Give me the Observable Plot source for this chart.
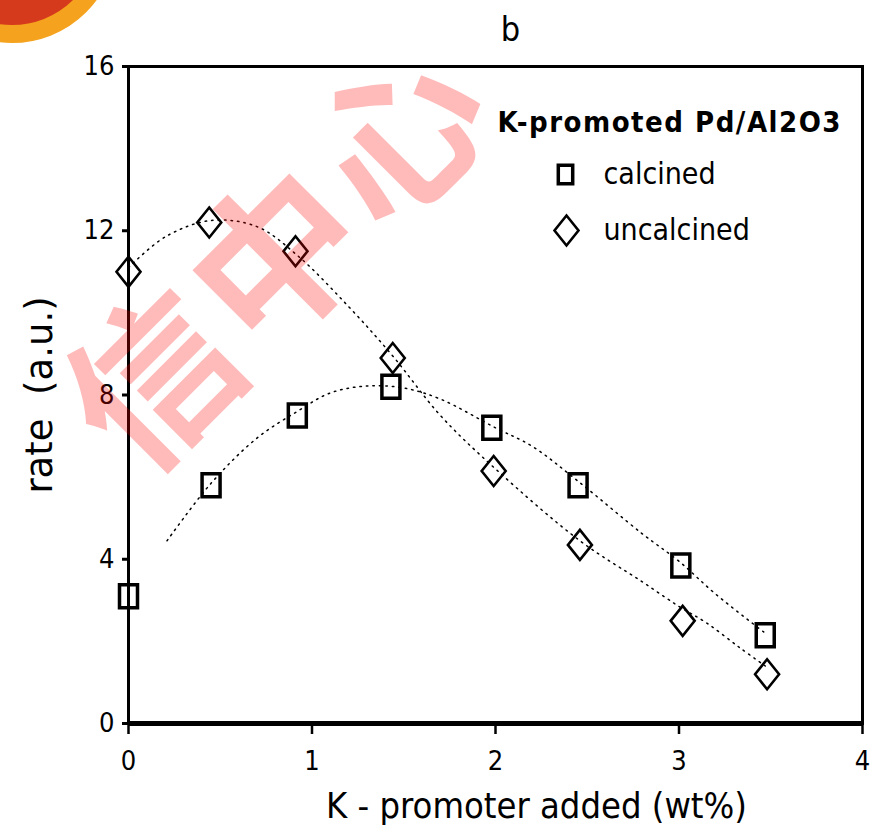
<!DOCTYPE html>
<html>
<head>
<meta charset="utf-8">
<script src="https://cdn.jsdelivr.net/npm/d3@7"></script>
<script src="https://cdn.jsdelivr.net/npm/@observablehq/plot@0.6"></script>
<style>
  html, body { margin: 0; padding: 0; background: #fff; }
  #wrap { position: relative; width: 879px; height: 832px; overflow: hidden; }
  #wrap svg.overlay { position: absolute; left: 0; top: 0; pointer-events: none; }
</style>
</head>
<body>
<div id="wrap"></div>
<script>
// ---- data ----
const xTicks = [0, 1, 2, 3, 4];
const yTicks = [0, 4, 8, 12, 16];

const calcinedK = [0, 0.45, 0.92, 1.43, 1.98, 2.45, 3.01, 3.47];
const calcinedRate = [3.1, 5.8, 7.5, 8.2, 7.2, 5.8, 3.85, 2.15];

const uncalcinedK = [0, 0.44, 0.91, 1.44, 1.99, 2.46, 3.02, 3.48];
const uncalcinedRate = [11.0, 12.2, 11.5, 8.9, 6.15, 4.35, 2.5, 1.2];

// dotted trend lines
const calcTrendK = [0.21, 0.45, 0.7, 0.92, 1.1, 1.3, 1.5, 1.7, 2.0, 2.2, 2.45, 2.8, 3.0, 3.2, 3.47];
const calcTrendRate = [4.45, 5.85, 6.95, 7.6, 8.05, 8.22, 8.17, 7.9, 7.2, 6.75, 5.9, 4.62, 3.95, 3.15, 2.2];

const uncTrendK = [0, 0.2, 0.45, 0.7, 0.92, 1.2, 1.44, 1.7, 2.0, 2.46, 2.8, 3.0, 3.15, 3.33, 3.47];
const uncTrendRate = [11.1, 11.85, 12.25, 12.1, 11.4, 10.15, 8.95, 7.5, 6.2, 4.45, 3.45, 2.85, 2.45, 1.85, 1.4];

const titleText = "b";
const xLabel = "K - promoter added (wt%)";
const yLabel = "rate\u00a0\u00a0(a.u.)";
const legendTitle = "K-promoted Pd/Al2O3";
const seriesNames = ["calcined", "uncalcined"];
const watermarkChars = ["信", "中", "心"];

// ---- build tables ----
const calcPts = calcinedK.map((k, i) => ({k, r: calcinedRate[i]}));
const uncPts = uncalcinedK.map((k, i) => ({k, r: uncalcinedRate[i]}));
const calcTrend = calcTrendK.map((k, i) => ({k, r: calcTrendRate[i]}));
const uncTrend = uncTrendK.map((k, i) => ({k, r: uncTrendRate[i]}));

// tall (vertically stretched) symbols like the reference
const tallSquare = {draw(ctx, size) {
  const s = Math.sqrt(size / Math.PI), w = s * 0.9, h = s * 1.15;
  ctx.moveTo(-w, -h); ctx.lineTo(w, -h); ctx.lineTo(w, h); ctx.lineTo(-w, h); ctx.closePath();
}};
const tallDiamond = {draw(ctx, size) {
  const s = Math.sqrt(size / Math.PI), w = s * 1.2, h = s * 1.5;
  ctx.moveTo(0, -h); ctx.lineTo(w, 0); ctx.lineTo(0, h); ctx.lineTo(-w, 0); ctx.closePath();
}};

const narrow = "'DejaVu Sans Condensed', 'DejaVu Sans', sans-serif";
const wide = "'DejaVu Sans', Verdana, sans-serif";

const chart = Plot.plot({
  width: 879,
  height: 832,
  marginLeft: 128,
  marginRight: 17,
  marginTop: 66,
  marginBottom: 109,
  style: {background: "white", fontFamily: narrow, color: "black"},
  x: {domain: [0, 4], label: null},
  y: {domain: [0, 16], label: null},
  marks: [
    Plot.line(calcTrend, {x: "k", y: "r", curve: "catmull-rom", stroke: "black", strokeWidth: 1.5, strokeDasharray: "1.5 5"}),
    Plot.line(uncTrend, {x: "k", y: "r", curve: "catmull-rom", stroke: "black", strokeWidth: 1.5, strokeDasharray: "1.5 5"}),
    Plot.dot(calcPts, {x: "k", y: "r", r: 10, symbol: tallSquare, stroke: "black", strokeWidth: 3.5, fill: "none"}),
    Plot.dot(uncPts, {x: "k", y: "r", r: 10, symbol: tallDiamond, stroke: "black", strokeWidth: 2.6, fill: "none"}),
    Plot.frame({stroke: "black", strokeWidth: 3}),
    Plot.ruleY([0], {stroke: "black", strokeWidth: 5}),
    Plot.axisX(xTicks, {tickSize: 11, strokeWidth: 2.5, tickPadding: 16, fontSize: 27, fontFamily: narrow, tickFormat: d => String(d), label: null}),
    Plot.axisY(yTicks, {tickSize: 6, strokeWidth: 3, tickPadding: 8, fontSize: 27, fontFamily: narrow, tickFormat: d => String(d), label: null}),
    Plot.text([titleText], {frameAnchor: "top", lineAnchor: "middle", dx: 15, dy: -36, fontSize: 34, fontFamily: narrow, fill: "black"}),
    Plot.text([xLabel], {frameAnchor: "bottom", lineAnchor: "middle", dx: 41, dy: 83, fontSize: 36, fontFamily: narrow, fill: "black"}),
    Plot.text([yLabel], {frameAnchor: "left", textAnchor: "middle", lineAnchor: "middle", dx: -88, dy: 0, rotate: -90, fontSize: 37, fontFamily: wide, fill: "black"}),
    // legend
    Plot.text([legendTitle], {frameAnchor: "top-left", textAnchor: "start", lineAnchor: "middle", dx: 369, dy: 56, fontSize: 29, fontWeight: "bold", fontFamily: narrow, fill: "black"}),
    Plot.dot([seriesNames[0]], {frameAnchor: "top-left", dx: 437, dy: 108, r: 8, symbol: tallSquare, stroke: "black", strokeWidth: 3.5, fill: "none"}),
    Plot.dot([seriesNames[1]], {frameAnchor: "top-left", dx: 438, dy: 164, r: 10, symbol: tallDiamond, stroke: "black", strokeWidth: 2.6, fill: "none"}),
    Plot.text([seriesNames[0]], {frameAnchor: "top-left", textAnchor: "start", lineAnchor: "middle", dx: 475, dy: 108, fontSize: 30, fontFamily: narrow, fill: "black"}),
    Plot.text([seriesNames[1]], {frameAnchor: "top-left", textAnchor: "start", lineAnchor: "middle", dx: 475, dy: 164, fontSize: 30, fontFamily: narrow, fill: "black"})
  ]
});

const wrap = document.getElementById("wrap");
wrap.appendChild(chart);

// letter spacing on legend title to match the wide-set original
d3.select(chart).selectAll("text").filter(function() { return this.textContent === legendTitle; })
  .attr("letter-spacing", "1.5");

// watermark overlay and logo corner (decoration of the source image)
const ov = d3.select(wrap).append("svg").attr("class", "overlay").attr("width", 879).attr("height", 832);
ov.append("circle").attr("cx", 12).attr("cy", -62).attr("r", 96)
  .attr("fill", "#d63a1c").attr("stroke", "#f5a31e").attr("stroke-width", 18);
const wmCenters = [[146, 372], [269, 250], [392, 128]];
ov.selectAll("text.wm").data(watermarkChars).join("text")
  .attr("class", "wm")
  .attr("x", (d, i) => wmCenters[i][0]).attr("y", (d, i) => wmCenters[i][1])
  .attr("text-anchor", "middle").attr("dominant-baseline", "central")
  .attr("transform", (d, i) => `rotate(-45 ${wmCenters[i][0]} ${wmCenters[i][1]})`)
  .attr("font-family", "'Noto Sans CJK SC', sans-serif")
  .attr("font-weight", "bold")
  .attr("font-size", 166)
  .attr("fill", "rgba(255,0,0,0.27)")
  .text(d => d);
</script>
</body>
</html>
